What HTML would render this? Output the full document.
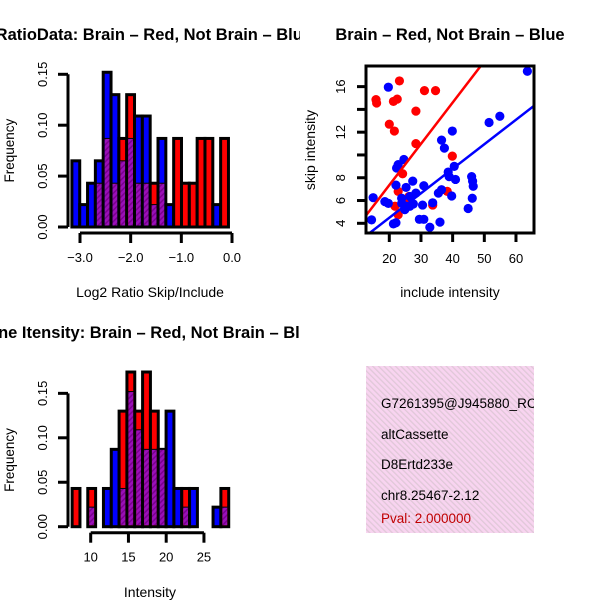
<!DOCTYPE html>
<html><head><meta charset="utf-8"><style>
html,body{margin:0;padding:0;background:#fff}
svg{display:block;font-family:"Liberation Sans",sans-serif}
</style></head><body>
<svg id="c" width="600" height="600" viewBox="0 0 600 600" xmlns="http://www.w3.org/2000/svg">
<defs>
<pattern id="hatch" width="4" height="4" patternUnits="userSpaceOnUse" patternTransform="rotate(45)">
<rect width="4" height="4" fill="#9a10b8"/><rect width="1.5" height="4" fill="#7a0090"/>
</pattern>
<pattern id="pink" width="4" height="4" patternUnits="userSpaceOnUse" patternTransform="rotate(-45)">
<rect width="4" height="4" fill="#f8d4f0"/><rect width="1.3" height="4" fill="#e0c8d8"/>
</pattern>
<clipPath id="clipTop"><rect x="0" y="0" width="300" height="300"/></clipPath>
<clipPath id="clipBot"><rect x="0" y="300" width="300" height="300"/></clipPath>
<clipPath id="clipSc"><rect x="366" y="66" width="168" height="167"/></clipPath>
<clipPath id="clipInfo"><rect x="366" y="366" width="168" height="167"/></clipPath>
</defs>
<g id="g1"></g>
<g id="g2"></g>
<g id="g3"></g>
<g id="g4" clip-path="url(#clipInfo)">
<rect x="366" y="366" width="168" height="167" fill="url(#pink)"/>
<text x="381" y="408" font-size="13.5">G7261395@J945880_RC</text>
<text x="381" y="439" font-size="13.5">altCassette</text>
<text x="381" y="469" font-size="13.5">D8Ertd233e</text>
<text x="381" y="500" font-size="13.5">chr8.25467-2.12</text>
<text x="381" y="523" font-size="13.5" fill="#c00000">Pval: 2.000000</text>
</g>
</svg>
<script>
// ---- Histogram 1 data (Log2 ratio) ----
const ratioBinStart = -3.16;
const ratioBinWidth = 0.1545;
const ratioBlue = [0.065,0.022,0.043,0.065,0.152,0.130,0.065,0.087,0.109,0.109,0.022,0.087,0.022,0,0,0,0,0,0.022,0];
const ratioRed  = [0,0,0,0.043,0.087,0.043,0.087,0.130,0.043,0.043,0.043,0.043,0,0.087,0.043,0.043,0.087,0.087,0,0.087];
const ratioXTicks = [-3.0,-2.0,-1.0,0.0];
const ratioXTickLabels = ["\u22123.0","\u22122.0","\u22121.0","0.0"];
const freqTicks1 = [0,0.05,0.10,0.15];
const freqTickLabels1 = ["0.00","0.05","0.10","0.15"];
// ---- Histogram 2 data (Intensity) ----
const intBinStart = 7.54;
const intBinWidth = 1.037;
const intBlue = [0,0,0.022,0,0.043,0.087,0.043,0.152,0.109,0.087,0.087,0.087,0.130,0.043,0.022,0.043,0,0,0.022,0.022];
const intRed  = [0.043,0,0.043,0,0,0,0.130,0.174,0.130,0.174,0.130,0.087,0,0,0.043,0,0,0,0,0.043];
const intXTicks = [10,15,20,25];
const freqTicks2 = [0,0.05,0.10,0.15];
const freqTickLabels2 = ["0.00","0.05","0.10","0.15"];
// ---- Scatter data ----
const redInclude = [15.8,16.0,21.3,22.5,23.2,31.1,34.6,28.4,20.0,21.6,28.4,39.9,24.2,22.8,26.2,21.8,22.8,33.7,38.3,25.5];
const redSkip    = [14.86,14.56,14.7,14.9,16.5,15.65,15.65,13.85,12.7,12.1,11.0,9.9,8.35,6.8,6.35,5.5,4.75,5.6,6.8,5.8];
const blueInclude = [19.7,63.6,51.5,54.9,39.9,36.5,37.4,24.6,22.8,22.3,40.5,38.6,38.9,40.9,46.0,46.3,46.5,46.2,44.9,39.7,36.5,35.5,27.4,30.9,25.3,22.1,28.4,26.5,23.9,23.9,25.3,27.6,30.5,33.7,14.9,18.6,19.7,14.4,21.3,22.1,29.5,30.9,32.8,36.0,24.9,26.5];
const blueSkip    = [15.95,17.35,12.85,13.4,12.1,11.3,10.6,9.6,9.15,8.85,9.0,8.5,8.1,7.85,8.1,7.7,7.25,6.2,5.3,6.4,6.95,6.65,7.7,7.3,7.15,7.35,6.65,6.35,6.2,5.75,5.5,5.7,5.6,5.8,6.25,5.9,5.75,4.3,3.95,4.05,4.35,4.35,3.65,4.1,5.2,5.5];
const redFit = [0.103, 0.3624];   // intercept, slope
const blueFit = [0.18, 0.2152];
const scXTicks = [20,30,40,50,60];
const scYTicks = [4,6,8,10,12,14,16];
const scYTickLabels = ["4","6","8","","12","","16"];

const NS="http://www.w3.org/2000/svg";
function mk(tag, attrs, parent, txt){
  const e=document.createElementNS(NS,tag);
  for(const k in attrs) e.setAttribute(k,attrs[k]);
  if(txt!==undefined) e.textContent=txt;
  parent.appendChild(e); return e;
}

function histogram(g, cfg){
  const sx=v=>cfg.x0+(v-cfg.t0)*cfg.kx;
  const sy=v=>cfg.y0-v*cfg.ky;
  const n=cfg.blue.length;
  for(let i=0;i<n;i++){
    const a=cfg.binStart+i*cfg.binWidth, b=a+cfg.binWidth;
    const bl=cfg.blue[i], rd=cfg.red[i];
    const hi=Math.max(bl,rd), lo=Math.min(bl,rd);
    if(hi<=0) continue;
    const col = bl>=rd ? "#0000ff" : "#ff0000";
    const r=mk("rect",{x:sx(a),y:sy(hi),width:sx(b)-sx(a),height:sy(0)-sy(hi),fill:col,stroke:"#000","stroke-width":3},g);
    
    
    if(lo>0){
      const p=mk("rect",{x:sx(a)+1.5,y:sy(lo),width:sx(b)-sx(a)-3,height:sy(0)-sy(lo)-1.5,fill:"url(#hatch)"},g);
      
      
      mk("line",{x1:sx(a),x2:sx(b),y1:sy(lo),y2:sy(lo),stroke:"#000","stroke-width":1},g);
    }
  }
  const ya=mk("g",{},g);
  
  
  const yt=cfg.yTicks;
  mk("line",{x1:68,x2:68,y1:sy(yt[0]),y2:sy(yt[yt.length-1]),stroke:"#000","stroke-width":3},ya);
  yt.forEach((t,i)=>{
    mk("line",{x1:58,x2:68,y1:sy(t),y2:sy(t),stroke:"#000","stroke-width":3},ya);
    const tx=mk("text",{x:47,y:sy(t),"font-size":13,"text-anchor":"middle",transform:`rotate(-90 47 ${sy(t)})`},ya,cfg.yLabels[i]);
    
    
  });
  const yl=mk("text",{x:14,y:(sy(0)+sy(0.15))/2,"font-size":13.5,"text-anchor":"middle",transform:`rotate(-90 14 ${(sy(0)+sy(0.15))/2})`},g,"Frequency");
  
  
  const xa=mk("g",{},g);
  
  
  const xt=cfg.xTicks, ax=cfg.y0+6;
  mk("line",{x1:sx(xt[0]),x2:sx(xt[xt.length-1]),y1:ax,y2:ax,stroke:"#000","stroke-width":3},xa);
  xt.forEach((t,i)=>{
    mk("line",{x1:sx(t),x2:sx(t),y1:ax,y2:ax+10,stroke:"#000","stroke-width":3},xa);
    const tx=mk("text",{x:sx(t),y:ax+29,"font-size":13,"text-anchor":"middle"},xa,cfg.xLabels[i]);
    
    
  });
  const xl=mk("text",{x:cfg.xTitleX,y:cfg.xTitleY,"font-size":14,"text-anchor":"middle"},g,cfg.xTitle);
  
  
  const tt=mk("text",{x:cfg.titleX,y:cfg.titleY,"font-size":16.5,"font-weight":"bold","text-anchor":"end","clip-path":cfg.clip},g,cfg.title);
  
  
}

histogram(document.getElementById('g1'),{
  blue:ratioBlue, red:ratioRed, binStart:ratioBinStart, binWidth:ratioBinWidth,
  x0:80, t0:-3.0, kx:50.67, y0:227, ky:1018,
  yTicks:freqTicks1, yLabels:freqTickLabels1, xTicks:ratioXTicks, xLabels:ratioXTickLabels,
  xTitle:"Log2 Ratio Skip/Include", xTitleX:150, xTitleY:297,
  title:"Log2 RatioData: Brain \u2013 Red, Not Brain \u2013 Blue", titleX:312, titleY:40, clip:"url(#clipTop)"
});
histogram(document.getElementById('g3'),{
  blue:intBlue, red:intRed, binStart:intBinStart, binWidth:intBinWidth,
  x0:90.7, t0:10, kx:7.55, y0:526.7, ky:889,
  yTicks:freqTicks2, yLabels:freqTickLabels2, xTicks:intXTicks, xLabels:intXTicks.map(String),
  xTitle:"Intensity", xTitleX:150, xTitleY:597,
  title:"Gene Itensity: Brain \u2013 Red, Not Brain \u2013 Blue", titleX:319, titleY:338, clip:"url(#clipBot)"
});

(function(){
  const g=document.getElementById('g2');
  const sx=v=>389.3+(v-20)*3.167;
  const sy=v=>223.3-(v-4)*11.39;
  const pts=mk("g",{"clip-path":"url(#clipSc)"},g);
  redInclude.forEach((x,i)=>{
    const c=mk("circle",{cx:sx(x),cy:sy(redSkip[i]),r:4.6,fill:"#ff0000"},pts);
    
    
  });
  blueInclude.forEach((x,i)=>{
    const c=mk("circle",{cx:sx(x),cy:sy(blueSkip[i]),r:4.6,fill:"#0000ff"},pts);
    
    
  });
  [[redFit,"#ff0000","brain-fit-line"],[blueFit,"#0000ff","not-brain-fit-line"]].forEach(([f,col,name])=>{
    const xa=0,xb=80;
    const l=mk("line",{x1:sx(xa),y1:sy(f[0]+f[1]*xa),x2:sx(xb),y2:sy(f[0]+f[1]*xb),stroke:col,"stroke-width":2.5},pts);
    
    
  });
  const box=mk("rect",{x:366,y:66,width:168,height:167,fill:"none",stroke:"#000","stroke-width":3},g);
  
  
  scXTicks.forEach(t=>{
    mk("line",{x1:sx(t),x2:sx(t),y1:233,y2:242,stroke:"#000","stroke-width":3},g);
    const tx=mk("text",{x:sx(t),y:263,"font-size":13,"text-anchor":"middle"},g,String(t));
    
    
  });
  scYTicks.forEach((t,i)=>{
    mk("line",{x1:357,x2:366,y1:sy(t),y2:sy(t),stroke:"#000","stroke-width":3},g);
    if(scYTickLabels[i]){
      const tx=mk("text",{x:345,y:sy(t),"font-size":13,"text-anchor":"middle",transform:`rotate(-90 345 ${sy(t)})`},g,scYTickLabels[i]);
      
      
    }
  });
  const xl=mk("text",{x:450,y:297,"font-size":14,"text-anchor":"middle"},g,"include intensity");
  
  
  const yl=mk("text",{x:315,y:150,"font-size":14,"text-anchor":"middle",transform:"rotate(-90 315 150)"},g,"skip intensity");
  
  
  const tt=mk("text",{x:450,y:40,"font-size":16.5,"font-weight":"bold","text-anchor":"middle"},g,"Brain \u2013 Red, Not Brain \u2013 Blue");
  
  
})();
</script>
</body></html>
